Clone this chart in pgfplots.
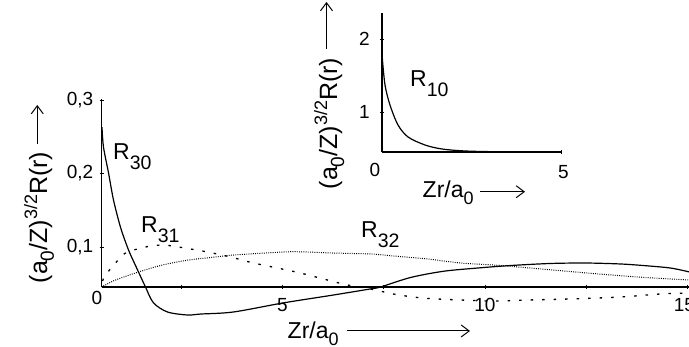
\documentclass[border=0pt]{standalone}
\usepackage{pgfplots}
\pgfplotsset{compat=1.18}
\usepackage{fontspec}
\setmainfont{Liberation Sans}
\usetikzlibrary{arrows.meta}
\newcommand\Rl[1]{R\raisebox{-10pt}{\fontsize{19.5}{19.5}\selectfont #1}}
\newcommand\ylab{(a\raisebox{-7pt}{\fontsize{19}{19}\selectfont 0}/Z)\raisebox{10pt}{\fontsize{18}{18}\selectfont 3/2}R(r)}
\newcommand\xlab{Zr/a\raisebox{-7pt}{\fontsize{18}{18}\selectfont 0}}
\tikzset{lbl/.style={inner sep=0pt, font=\fontsize{23}{23}\selectfont},
  ylbl/.style={inner sep=0pt, font=\fontsize{25}{25}\selectfont},
  arr/.style={line width=1pt, -{Straight Barb[length=8pt,width=12pt]}}}
\begin{document}
\begin{tikzpicture}[x=1pt,y=1pt]
\useasboundingbox (0,0) rectangle (689,347);
% main axis
\begin{axis}[at={(101.5pt,60pt)}, anchor=south west,
  x=40.5pt, y=735pt,
  xmin=0.531, xmax=15.05, ymin=0.0456, ymax=0.302,
  enlargelimits=false, clip=false,
  axis lines*=left,
  axis line style={line width=1.3pt, black},
  scaled y ticks=false, scaled x ticks=false,
  tick align=center, major tick length=4pt,
  tick style={black, line width=0.8pt},
  tick label style={font=\fontsize{19}{19}\selectfont, inner sep=0pt},
  xtick={2.5,5,7.5,10,12.5,15},
  xticklabels={,5,,10,,\makebox[0pt]{\kern-6pt15}},
  ytick={0.1,0.2,0.3},
  yticklabels={\mbox{0,1},\mbox{0,2},\mbox{0,3}},
  xticklabel style={anchor=north, yshift=-9pt},
  yticklabel style={anchor=east, xshift=-6pt},
  extra x ticks={0.531},
  extra x tick labels={0},
  extra x tick style={major tick length=0pt, xticklabel style={xshift=-4.5pt, yshift=5pt}},
]
\addplot[black, line width=1.2pt, smooth, tension=0.5] coordinates {
(0.543,0.263) (0.580,0.236) (0.704,0.201) (0.827,0.164) (1.0,0.127)
(1.198,0.096) (1.420,0.069) (1.617,0.0456) (1.815,0.024) (2.160,0.0116)
(2.654,0.0075) (2.975,0.0088) (3.79,0.0116) (5.025,0.024) (6.259,0.0347)
(7.173,0.043) (7.42,0.0456) (8.16,0.0585) (8.975,0.067) (9.815,0.0714)
(10.63,0.0748) (11.62,0.0776) (12.51,0.0782) (13.35,0.0769) (13.91,0.0748)
(14.58,0.0714) (15.05,0.066)};
\addplot[black, line width=1.3pt, smooth, tension=0.5, dash pattern=on 2.5pt off 9pt] coordinates {
(0.556,0.0537) (0.63,0.0619) (0.877,0.0782) (1.123,0.0918) (1.617,0.1)
(2.037,0.1027) (2.432,0.1) (3.148,0.0932) (3.716,0.0864) (4.284,0.0782)
(4.877,0.0714) (5.444,0.0646) (6.012,0.0565) (6.605,0.0483) (7.173,0.0429)
(7.741,0.036) (8.16,0.0325) (8.58,0.030) (9.395,0.0279) (10.21,0.0265)
(11.05,0.0279) (12.11,0.0293) (13.35,0.032) (14.33,0.0361) (15.0,0.0374)};
\addplot[black, line width=1pt, smooth, tension=0.5, dash pattern=on 0.9pt off 1.3pt] coordinates {
(0.531,0.0456) (0.877,0.0551) (1.444,0.066) (2.037,0.0755) (2.679,0.0823)
(3.346,0.0864) (3.79,0.0891) (5.025,0.0932) (5.44,0.0935) (6.259,0.0918)
(7.173,0.0905) (7.741,0.0878) (8.58,0.0837) (9.395,0.0782) (10.21,0.0755)
(11.12,0.0714) (12.53,0.0646) (13.77,0.0592) (15.05,0.0551)};
\end{axis}
% inset axis
\begin{axis}[at={(382pt,195pt)}, anchor=south west,
  x=35.8pt, y=73pt,
  xmin=0, xmax=5, ymin=0.452, ymax=2.356,
  enlargelimits=false, clip=false,
  axis lines*=left,
  axis line style={line width=1.3pt, black},
  tick align=center, major tick length=4pt,
  tick style={black, line width=0.8pt},
  tick label style={font=\fontsize{19}{19}\selectfont, inner sep=0pt},
  xtick={5}, xticklabels={5},
  ytick={1,2}, yticklabels={1,2},
  xticklabel style={anchor=north, yshift=-11pt, xshift=2.5pt},
  yticklabel style={anchor=east, xshift=-10pt},
  extra x ticks={0},
  extra x tick labels={0},
  extra x tick style={major tick length=0pt, xticklabel style={xshift=-9.5pt}},
]
\addplot[black, line width=1.2pt, smooth, tension=0.5] coordinates {
(0.01,1.73) (0.084,1.37) (0.223,1.096) (0.447,0.822) (0.726,0.658)
(1.20,0.548) (1.676,0.493) (2.32,0.466) (3.3,0.455) (5.0,0.452)};
\end{axis}
% curve labels
\node[lbl, anchor=base west] at (113,187) {\Rl{30}};
\node[lbl, anchor=base west] at (141,114) {\Rl{31}};
\node[lbl, anchor=base west] at (361,109) {\Rl{32}};
\node[lbl, anchor=base west] at (410,260.3) {\Rl{10}};
% main axis titles
\node[ylbl, rotate=90, anchor=base west] at (47,63.5) {\ylab};
\draw[arr] (37.3,203) -- (37.3,242);
\node[lbl, anchor=base west] at (287.5,8) {\xlab};
\draw[arr] (347,16) -- (470,16);
% inset axis titles
\node[ylbl, rotate=90, anchor=base west] at (337,157.5) {\ylab};
\draw[arr] (326.5,298) -- (326.5,345);
\node[lbl, anchor=base west] at (422.5,149) {\xlab};
\draw[arr] (480,155.3) -- (525,155.3);
\end{tikzpicture}
\end{document}
